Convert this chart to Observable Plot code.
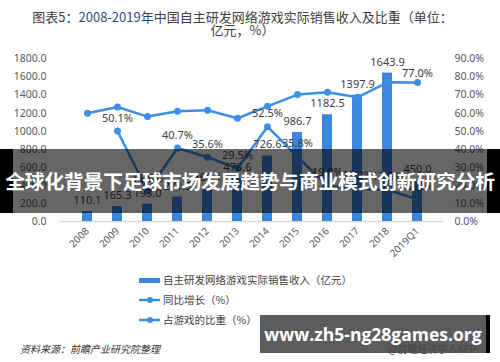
<!DOCTYPE html>
<html><head><meta charset="utf-8">
<script src="https://cdn.jsdelivr.net/npm/d3@7"></script>
<script src="https://cdn.jsdelivr.net/npm/@observablehq/plot@0.6"></script>
<style>
body{margin:0;background:#fff;font-family:"Noto Sans CJK SC","Noto Sans",sans-serif;}
#wrap{position:relative;width:500px;height:362px;overflow:hidden;background:#fff;}
.abs{position:absolute;white-space:nowrap;}
.title{left:0;width:485px;text-align:center;font-size:13px;color:#404040;line-height:13px;}
.leg{left:163px;font-size:10.5px;color:#404040;line-height:12px;}
#banner{left:0;top:149px;width:500px;height:64px;background:rgba(0,0,0,0.6);}
#bannertext{left:0;top:149px;width:500px;height:64px;line-height:64px;text-align:center;color:#fff;font-weight:bold;font-size:19.8px;letter-spacing:-0.2px;}
</style></head><body><div id="wrap">
<div class="abs title" style="top:10px;">图表5：<span style="color:#2f4f7f">2008-2019</span>年中国自主研发网络游戏实际销售收入及比重（单位：</div>
<div class="abs title" style="top:23px;">亿元，%）</div>
<div id="chart" class="abs" style="left:0;top:0;"></div>
<svg class="abs" style="left:0;top:0;" width="500" height="362">
  <rect x="139" y="278" width="21" height="5" fill="#3b87df"/>
  <line x1="139" x2="160" y1="300" y2="300" stroke="#3d8ee6" stroke-width="2.5"/>
  <circle cx="150" cy="300" r="3" fill="#3d8ee6"/>
  <line x1="139" x2="160" y1="320" y2="320" stroke="#3d8ee6" stroke-width="2.5"/>
  <circle cx="150" cy="320" r="3" fill="#3d8ee6"/>
</svg>
<div class="abs leg" style="top:274px;">自主研发网络游戏实际销售收入（亿元）</div>
<div class="abs leg" style="top:294px;">同比增长（%）</div>
<div class="abs leg" style="top:314px;">占游戏的比重（%）</div>
<div class="abs" style="left:20px;top:341px;font-size:10px;font-style:italic;color:#333;">资料来源：前瞻产业研究院整理</div>
<div class="abs" style="left:388px;top:341px;font-size:10px;color:#333;">@前瞻经济学人APP</div>
<div id="banner" class="abs"></div>
<div class="abs" style="left:0;top:149px;width:13px;height:64px;background:#000;"></div>
<div class="abs" style="left:487px;top:149px;width:13px;height:64px;background:#000;"></div>
<div id="bannertext" class="abs">全球化背景下足球市场发展趋势与商业模式创新研究分析</div>
<div class="abs" style="left:260px;top:315px;width:226px;height:38px;background:rgba(70,70,70,0.88);"></div>
<div class="abs" style="left:486px;top:315px;width:4px;height:38px;background:#000;"></div>
<div class="abs" style="left:260px;top:315px;width:226px;height:38px;line-height:38px;text-align:center;color:#fff;font-weight:bold;font-size:17.5px;font-family:'Open Sans','DejaVu Sans',sans-serif;">www.zh5-ng28games.org</div>
</div>
<script>
const years = ["2008","2009","2010","2011","2012","2013","2014","2015","2016","2017","2018","2019Q1"];
const revenue = [110.1,165.3,193.0,271.5,368.1,476.6,726.6,986.7,1182.5,1397.9,1643.9,450.0];
const growth = [null,50.1,16.8,40.7,35.6,29.5,52.5,35.8,19.8,18.2,17.6,12.2];
const share = [60.0,63.4,58.1,61.1,61.6,57.2,63.8,70.3,71.6,68.8,77.1,77.0];
const leftTicks = [0,200,400,600,800,1000,1200,1400,1600,1800];

const PCT = 20; // 90% on the right axis = 1800 on the left axis
const BAR = "#3b87df", LINE = "#3d8ee6", LAB = "#404040";
const rows = years.map((y,i)=>({year:y, revenue:revenue[i], growth:growth[i], share:share[i]}));
const gRows = rows.filter(d=>d.growth!=null);
const font = "'Noto Sans','DejaVu Sans',sans-serif";

const plot = Plot.plot({
  width:500, height:270,
  marginTop:58.5, marginBottom:49, marginLeft:60, marginRight:57,
  style:{fontFamily:font, fontSize:"10.5px", color:"#595959", background:"transparent", overflow:"visible"},
  x:{type:"band", domain:years, padding:0.67, label:null},
  y:{domain:[0,1800], label:null},
  marks:[
    Plot.ruleY([0],{stroke:"#d9d9d9", strokeWidth:1.5}),
    Plot.axisY({ticks:leftTicks, tickSize:0, tickPadding:14, tickFormat:d=>d.toFixed(1), label:null}),
    Plot.axisY({anchor:"right", ticks:leftTicks, tickSize:0, tickPadding:11, tickFormat:d=>(d/PCT).toFixed(1)+"%", label:null}),
    Plot.axisX({tickSize:0, tickRotate:-45, tickPadding:8, label:null, fontSize:10}),
    Plot.barY(rows,{x:"year", y:"revenue", fill:BAR}),
    Plot.line(gRows,{x:"year", y:d=>d.growth*PCT, stroke:LINE, strokeWidth:2.5}),
    Plot.dot(gRows,{x:"year", y:d=>d.growth*PCT, r:3.5, fill:LINE}),
    Plot.line(rows,{x:"year", y:d=>d.share*PCT, stroke:LINE, strokeWidth:2.5}),
    Plot.dot(rows,{x:"year", y:d=>d.share*PCT, r:3.5, fill:LINE}),
    Plot.text(rows,{x:"year", y:"revenue", text:d=>d.revenue.toFixed(1), dy:-11, fill:LAB, fontSize:11}),
    Plot.text(gRows,{x:"year", y:d=>d.growth*PCT, text:d=>d.growth.toFixed(1)+"%", dy:-13, fill:LAB, fontSize:11}),
    Plot.text(rows.slice(-1),{x:"year", y:d=>d.share*PCT, text:d=>d.share.toFixed(1)+"%", dy:-9, fill:LAB, fontSize:11})
  ]
});
document.getElementById("chart").appendChild(plot);
</script>
</body></html>
